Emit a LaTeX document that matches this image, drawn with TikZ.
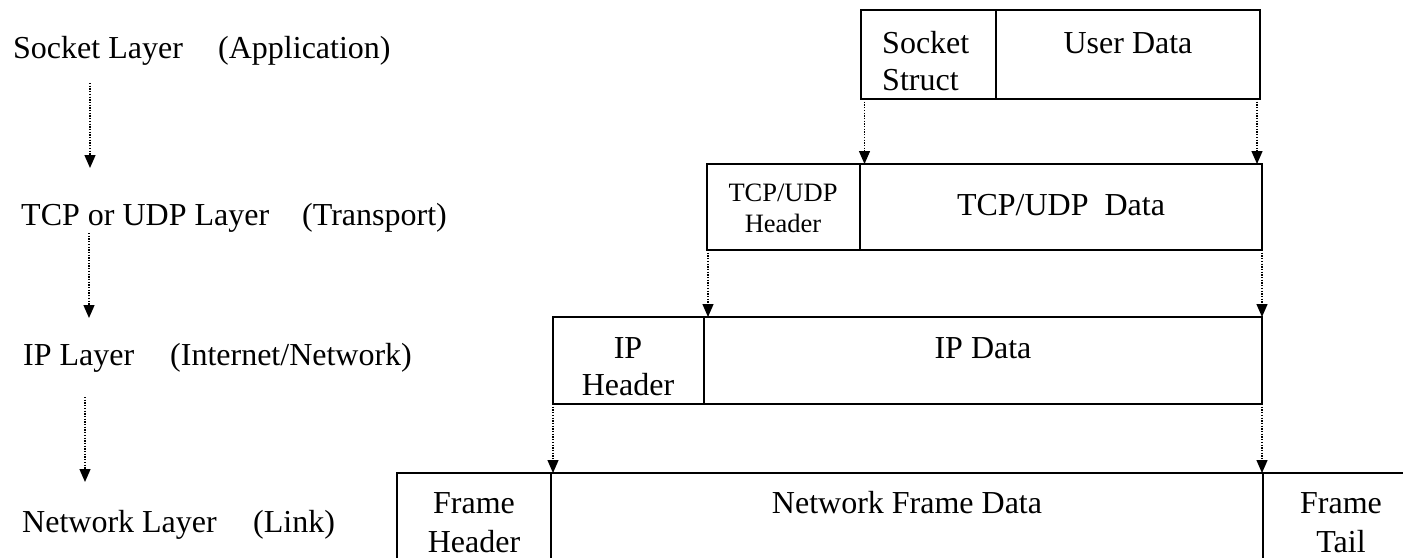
\documentclass[tikz,border=0pt]{standalone}
\usepackage{fontspec}
\setmainfont{Liberation Serif}
\usetikzlibrary{arrows.meta}

\begin{document}
\begin{tikzpicture}[x=1pt,y=-1pt,
  cell/.style={draw, line width=1.5pt, outer sep=0pt, inner sep=0pt, anchor=north west},
  txt/.style={inner sep=0pt, anchor=base, font=\fontsize{32}{38}\selectfont},
  smalltxt/.style={txt, font=\fontsize{26.5}{31}\selectfont},
  lefttxt/.style={txt, anchor=base west},
  flow/.style={line width=1.3pt, dash pattern=on 1.3pt off 1.4pt,
    -{Triangle[width=11pt,length=13pt]}}
]
\useasboundingbox (0,0) rectangle (1403,557);
\clip (0,0) rectangle (1403,557);

% ---- layer names on the left ----
\node[lefttxt] (sockL)  at (13,58)   {Socket Layer};
\node[lefttxt] (sockR)  at (218,58)  {(Application)};
\node[lefttxt] (tcpL)   at (21,225)  {TCP or UDP Layer};
\node[lefttxt] (tcpR)   at (302,225) {(Transport)};
\node[lefttxt] (ipL)    at (23,365)  {IP Layer};
\node[lefttxt] (ipR)    at (170,365) {(Internet/Network)};
\node[lefttxt] (netL)   at (22,532)  {Network Layer};
\node[lefttxt] (netR)   at (253,532) {(Link)};

\coordinate (d1a) at (90,83);  \coordinate (d1b) at (90,168);
\coordinate (d2a) at (89,233); \coordinate (d2b) at (89,318);
\coordinate (d3a) at (85,397); \coordinate (d3b) at (85,482);
\draw[flow] (d1a) -- (d1b);
\draw[flow] (d2a) -- (d2b);
\draw[flow] (d3a) -- (d3b);

% ---- socket layer ----
\node[cell, minimum width=135pt, minimum height=89pt] (sockS) at (861,10) {};
\node[cell, minimum width=264pt, minimum height=89pt] (userD) at (996,10) {};
\node[lefttxt] (tSock)   at (882,53) {Socket};
\node[lefttxt] (tStruct) at (882,90) {Struct};
\node[txt] (tUser) at (1128,53) {User Data};

% ---- transport layer ----
\node[cell, minimum width=153pt, minimum height=86pt] (tcpH) at (707,164) {};
\node[cell, minimum width=402pt, minimum height=86pt] (tcpD) at (860,164) {};
\node[smalltxt] (tTcpH1) at (783,201) {TCP/UDP};
\node[smalltxt] (tTcpH2) at (783,232) {Header};
\node[txt] (tTcpD) at (1061,215) {TCP/UDP\ \ Data};

% ---- internet layer ----
\node[cell, minimum width=151pt, minimum height=87pt] (ipH) at (553,317) {};
\node[cell, minimum width=558pt, minimum height=87pt] (ipD) at (704,317) {};
\node[txt] (tIpH1) at (628,358) {IP};
\node[txt] (tIpH2) at (628,395) {Header};
\node[txt] (tIpD)  at (983,358) {IP Data};

% ---- link layer ----
\node[cell, minimum width=154pt, minimum height=110pt] (frH) at (397,473) {};
\node[cell, minimum width=712pt, minimum height=110pt] (frD) at (551,473) {};
\node[cell, minimum width=160pt, minimum height=110pt] (frT) at (1263,473) {};
\node[txt] (tFrH1) at (474,513) {Frame};
\node[txt] (tFrH2) at (474,552) {Header};
\node[txt] (tFrD)  at (907,513) {Network Frame Data};
\node[txt] (tFrT1) at (1341,513) {Frame};
\node[txt] (tFrT2) at (1341,552) {Tail};

% ---- encapsulation arrows ----
\draw[flow] ([xshift=3.5pt]sockS.south west) -- ([xshift=3.5pt]sockS.south west |- tcpD.north);
\draw[flow] ([xshift=-3pt]userD.south east) -- ([xshift=-3pt]userD.south east |- tcpD.north);
\draw[flow] ([xshift=1pt]tcpH.south west) -- ([xshift=1pt]tcpH.south west |- ipD.north);
\draw[flow] (tcpD.south east) -- (tcpD.south east |- ipD.north);
\draw[flow] (ipH.south west) -- (ipH.south west |- frD.north);
\draw[flow] (ipD.south east) -- (ipD.south east |- frD.north);
\end{tikzpicture}
\end{document}
